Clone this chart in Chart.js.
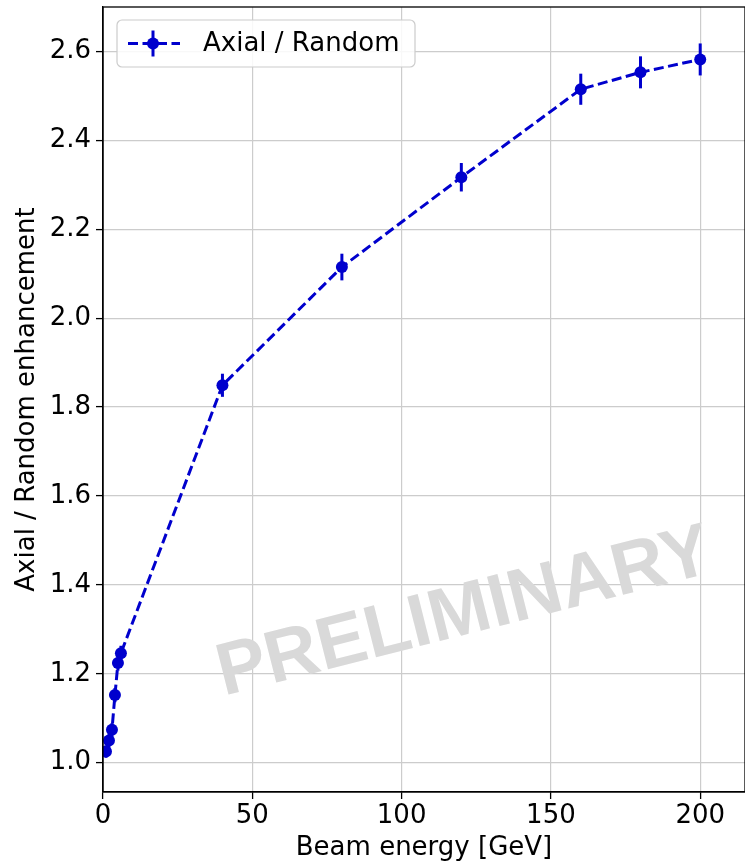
<!DOCTYPE html>
<html>
<head>
<meta charset="utf-8">
<script src="https://cdn.jsdelivr.net/npm/chart.js@4"></script>
<style>
  html, body { margin: 0; padding: 0; background: #ffffff; overflow: hidden; }
  canvas { display: block; }
</style>
</head>
<body>
<canvas id="enhChart" width="745" height="864"></canvas>
<script>
// Data
const beamEnergy = [1, 2, 3, 4, 5, 6, 40, 80, 120, 160, 180, 200];
const enhancement = [1.025, 1.050, 1.074, 1.152, 1.224, 1.246, 1.849, 2.115, 2.317, 2.515, 2.553, 2.582];
const enhancementErr = [0.014, 0.015, 0.015, 0.016, 0.017, 0.017, 0.026, 0.030, 0.032, 0.035, 0.036, 0.036];
const seriesLabel = 'Axial / Random';
const xTitle = 'Beam energy [GeV]';
const yTitle = 'Axial / Random enhancement';
const watermark = 'PRELIMINARY';

const BLUE = '#0000cd';
const FONT = "'DejaVu Sans', sans-serif";
const FS = 26;

// vertical error bars, drawn through the scales
const errorBars = {
    id: 'errorBars',
    afterDatasetsDraw(chart) {
        const { ctx, scales: { x, y } } = chart;
        ctx.save();
        ctx.strokeStyle = BLUE;
        ctx.lineWidth = 3;
        beamEnergy.forEach((e, i) => {
            const px = x.getPixelForValue(e);
            ctx.beginPath();
            ctx.moveTo(px, y.getPixelForValue(enhancement[i] - enhancementErr[i]));
            ctx.lineTo(px, y.getPixelForValue(enhancement[i] + enhancementErr[i]));
            ctx.stroke();
        });
        ctx.restore();
    }
};

// grey PRELIMINARY stamp
const stamp = {
    id: 'stamp',
    beforeDatasetsDraw(chart) {
        const { ctx, chartArea: a } = chart;
        ctx.save();
        ctx.translate(a.left + 0.563 * (a.right - a.left), a.top + 0.773 * (a.bottom - a.top));
        ctx.rotate(-14.2 * Math.PI / 180);
        ctx.font = "bold 74px 'Liberation Sans', Arial, sans-serif";
        ctx.fillStyle = '#d9d9d9';
        ctx.textAlign = 'center';
        ctx.textBaseline = 'middle';
        ctx.fillText(watermark, 0, 0);
        ctx.restore();
    }
};

// matplotlib-like legend box and the full frame
const frameAndLegend = {
    id: 'frameAndLegend',
    afterDraw(chart) {
        const { ctx, chartArea: a } = chart;
        ctx.save();
        ctx.strokeStyle = '#000';
        ctx.lineWidth = 1.3;
        ctx.strokeRect(a.left, a.top, a.right - a.left, a.bottom - a.top);

        // legend
        const bx = 117, by = 20, bw = 298, bh = 47;
        ctx.beginPath();
        ctx.roundRect(bx, by, bw, bh, 5);
        ctx.fillStyle = 'rgba(255,255,255,0.85)';
        ctx.fill();
        ctx.strokeStyle = '#cccccc';
        ctx.lineWidth = 1.2;
        ctx.stroke();

        const cy = by + bh / 2;
        ctx.strokeStyle = BLUE;
        ctx.lineWidth = 3;
        ctx.setLineDash([10, 4.5]);
        ctx.beginPath();
        ctx.moveTo(128, cy);
        ctx.lineTo(180, cy);
        ctx.stroke();
        ctx.setLineDash([]);
        ctx.beginPath();
        ctx.moveTo(153, cy - 13);
        ctx.lineTo(153, cy + 13);
        ctx.stroke();
        ctx.beginPath();
        ctx.arc(153, cy, 6, 0, Math.PI * 2);
        ctx.fillStyle = BLUE;
        ctx.fill();

        ctx.fillStyle = '#000';
        ctx.font = FS + 'px ' + FONT;
        ctx.textAlign = 'left';
        ctx.textBaseline = 'middle';
        ctx.fillText(seriesLabel, 203, cy + 1);
        ctx.restore();
    }
};

const points = beamEnergy.map((e, i) => ({ x: e, y: enhancement[i] }));

new Chart(document.getElementById('enhChart').getContext('2d'), {
    type: 'line',
    data: {
        datasets: [{
            label: seriesLabel,
            data: points,
            borderColor: BLUE,
            backgroundColor: BLUE,
            borderWidth: 3,
            borderDash: [10, 4.5],
            pointRadius: 6,
            pointHoverRadius: 6,
            pointBorderWidth: 0,
            tension: 0,
            fill: false
        }]
    },
    options: {
        responsive: false,
        animation: false,
        devicePixelRatio: 1,
        layout: { autoPadding: false, padding: { top: 7, right: 0, bottom: 0, left: 0 } },
        plugins: {
            legend: { display: false },
            tooltip: { enabled: false }
        },
        scales: {
            x: {
                type: 'linear',
                min: 0,
                max: 215,
                afterFit: (s) => {
                    s.height = 72;
                    s.paddingLeft = 0;
                    s.paddingRight = 0;
                },
                ticks: {
                    stepSize: 50,
                    includeBounds: false,
                    color: '#000',
                    padding: 2,
                    font: { family: FONT, size: FS },
                    callback: (v) => String(v)
                },
                grid: {
                    color: '#cccccc',
                    lineWidth: 1.2,
                    tickColor: '#000',
                    tickLength: 7,
                    tickWidth: 1.3
                },
                border: { display: true, color: '#000', width: 1.3 },
                title: {
                    display: true,
                    text: xTitle,
                    color: '#000',
                    padding: { top: 0, bottom: 0 },
                    font: { family: FONT, size: FS }
                }
            },
            y: {
                min: 0.934,
                max: 2.70,
                afterFit: (s) => {
                    s.width = 103;
                    s.paddingTop = 0;
                    s.paddingBottom = 0;
                },
                ticks: {
                    stepSize: 0.2,
                    includeBounds: false,
                    color: '#000',
                    padding: 5,
                    font: { family: FONT, size: FS },
                    callback: (v) => Number(v).toFixed(1)
                },
                grid: {
                    color: '#cccccc',
                    lineWidth: 1.2,
                    tickColor: '#000',
                    tickLength: 7,
                    tickWidth: 1.3
                },
                border: { display: true, color: '#000', width: 1.3 },
                title: {
                    display: true,
                    text: yTitle,
                    color: '#000',
                    padding: { top: 12, bottom: 0 },
                    font: { family: FONT, size: FS }
                }
            }
        }
    },
    plugins: [stamp, errorBars, frameAndLegend]
});
</script>
</body>
</html>
